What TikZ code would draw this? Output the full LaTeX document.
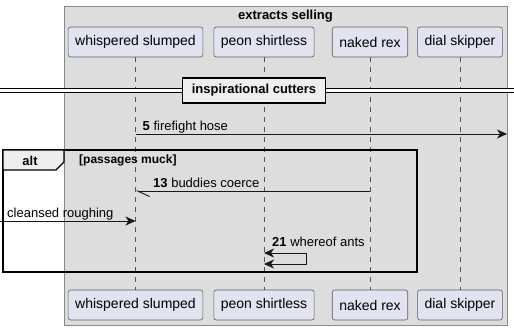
\documentclass[tikz,border=0pt]{standalone}
\usepackage{fontspec}
\setmainfont{Liberation Sans}
\definecolor{boxgray}{HTML}{DDDDDD}
\definecolor{boxline}{HTML}{8A8A8A}
\definecolor{partfill}{HTML}{E2E2F0}
\definecolor{partline}{HTML}{181818}
\definecolor{tabfill}{HTML}{EEEEEE}
\definecolor{lifegray}{HTML}{555555}
\usetikzlibrary{arrows.meta, calc}

\begin{document}
\begin{tikzpicture}[
    x=1pt, y=-1pt,
    part/.style  = {rectangle, rounded corners=2.5pt, draw=partline!70, line width=0.6pt,
                    fill=partfill, minimum height=30pt, inner xsep=7pt, inner ysep=0pt,
                    font=\fontsize{14}{16}\selectfont},
    life/.style  = {lifegray, line width=0.6pt, dash pattern=on 5pt off 5pt},
    msg/.style   = {line width=0.9pt, color=partline},
    tip/.style   = {-{Stealth[length=10pt, width=9pt, inset=3pt]}},
    lbl/.style   = {anchor=base west, inner sep=0pt, font=\fontsize{13}{15}\selectfont},
    divbox/.style= {rectangle, draw=black, line width=1.6pt, fill=tabfill,
                    minimum width=143pt, minimum height=25pt, inner sep=0pt,
                    font=\fontsize{13}{15}\selectfont\bfseries},
  ]
    \useasboundingbox (0,0) rectangle (514,330);

    % ── Participant group ────────────────────────────────────
    \draw[boxline, fill=boxgray, line width=0.8pt] (64,6) rectangle (507,325);
    \node[anchor=base, inner sep=0pt, font=\fontsize{13}{15}\selectfont\bfseries]
        (grp) at (285.5,19) {extracts selling};

    % ── Participants, top and bottom ─────────────────────────
    \node[part] (ws)  at (135.5, 42) {whispered slumped};
    \node[part] (ps)  at (264,   42) {peon shirtless};
    \node[part] (nr)  at (370,   42) {naked rex};
    \node[part] (ds)  at (460,   42) {dial skipper};
    \node[part] (ws2) at (135.5,305) {whispered slumped};
    \node[part] (ps2) at (264,  305) {peon shirtless};
    \node[part] (nr2) at (370,  305) {naked rex};
    \node[part] (ds2) at (460,  305) {dial skipper};
    \draw[life] (ws.south) -- (ws2.north);
    \draw[life] (ps.south) -- (ps2.north);
    \draw[life] (nr.south) -- (nr2.north);
    \draw[life] (ds.south) -- (ds2.north);

    % ── Divider ──────────────────────────────────────────────
    \coordinate (divl) at (0,90.5);
    \coordinate (divr) at (514,90.5);
    \draw[double=white, double distance=3.6pt, line width=0.9pt, black] (divl) -- (divr);
    \node[divbox] (div) at (254,90.5) {inspirational cutters};

    % ── Message 5 ────────────────────────────────────────────
    \coordinate (m5a) at (135.5,134);
    \coordinate (m5b) at (507,134);
    \draw[msg, tip] (m5a) -- (m5b);
    \node[lbl] (l5) at (142.5,130) {\textbf{5} firefight hose};

    % ── Alt frame ────────────────────────────────────────────
    \coordinate (altnw) at (3,150);
    \coordinate (altse) at (417,272);
    \draw[line width=1.5pt] (altnw) rectangle (altse);
    \draw[line width=1.2pt, fill=tabfill] (3,150) -- (64,150) -- (64,162) -- (56,170) -- (3,170) -- cycle;
    \node[anchor=base, inner sep=0pt, font=\fontsize{13}{15}\selectfont\bfseries] (alt) at (30,165) {alt};
    \node[anchor=base west, inner sep=0pt, font=\fontsize{12}{14}\selectfont\bfseries]
        (cond) at (79,163.5) {[passages muck]};

    % ── Message 13 ───────────────────────────────────────────
    \coordinate (m13a) at (370,191);
    \coordinate (m13b) at (135.5,191);
    \draw[msg, -{Straight Barb[harpoon, length=12pt, width=11pt]}] (m13a) -- (m13b);
    \node[lbl] (l13) at (153,187) {\textbf{13} buddies coerce};

    % ── Incoming message ─────────────────────────────────────
    \coordinate (inl) at (0,221);
    \coordinate (inr) at (135.5,221);
    \draw[msg, tip] (inl) -- (inr);
    \node[lbl] (lin) at (7,217) {cleansed roughing};

    % ── Message 21 (self) ────────────────────────────────────
    \coordinate (m21a) at (264,253);
    \coordinate (m21c) at (306,253);
    \coordinate (m21b) at (264,264);
    \draw[msg, {Stealth[length=10pt, width=9pt, inset=3pt]}-{Stealth[length=10pt, width=9pt, inset=3pt]}]
        (m21a) -- (m21c) |- (m21b);
    \node[lbl] (l21) at (272,246) {\textbf{21} whereof ants};

  \end{tikzpicture}
\end{document}
